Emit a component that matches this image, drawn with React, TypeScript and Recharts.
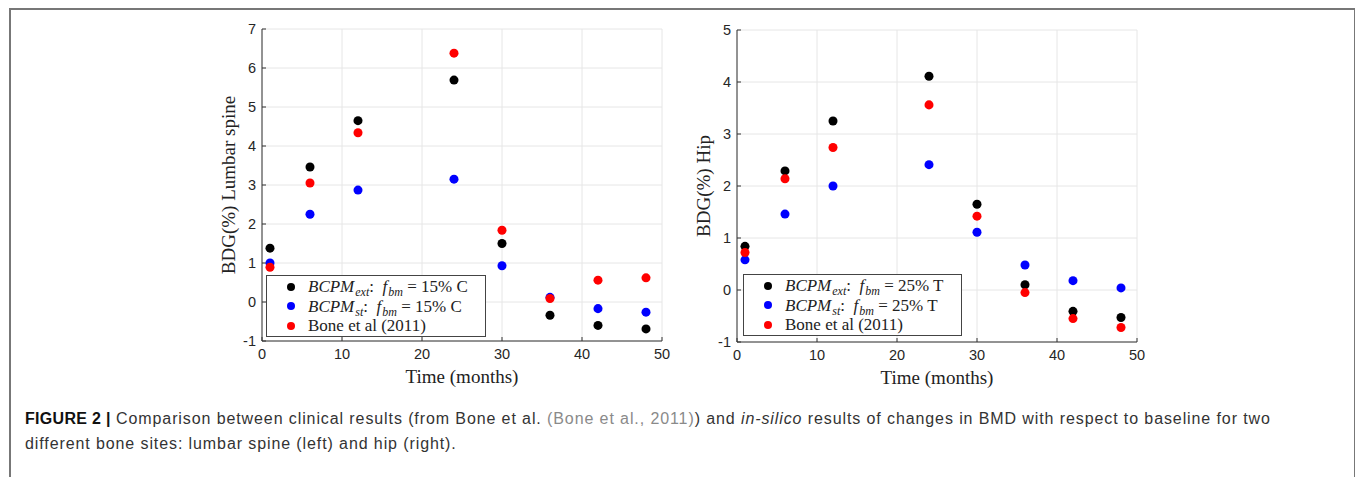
import { ScatterChart, Scatter, XAxis, YAxis, ZAxis, CartesianGrid, Legend } from "recharts";

const MONTHS = [1, 6, 12, 24, 30, 36, 42, 48];

// lumbar spine (left panel)
const SPINE_EXT = [1.38, 3.46, 4.65, 5.69, 1.5, -0.34, -0.6, -0.69];
const SPINE_ST = [1.0, 2.25, 2.87, 3.15, 0.93, 0.12, -0.17, -0.26];
const SPINE_BONE = [0.89, 3.05, 4.34, 6.38, 1.84, 0.09, 0.56, 0.62];

// hip (right panel)
const HIP_EXT = [0.84, 2.29, 3.25, 4.11, 1.65, 0.1, -0.41, -0.53];
const HIP_ST = [0.58, 1.46, 2.0, 2.41, 1.11, 0.48, 0.18, 0.04];
const HIP_BONE = [0.72, 2.14, 2.74, 3.56, 1.42, -0.05, -0.55, -0.72];

const X_TICKS = [0, 10, 20, 30, 40, 50];
const SPINE_TICKS = [-1, 0, 1, 2, 3, 4, 5, 6, 7];
const HIP_TICKS = [-1, 0, 1, 2, 3, 4, 5];

const SERIES_COLORS = ["#000000", "#0000ff", "#ff0000"];

const toPoints = (vals: number[]) => MONTHS.map((m, i) => ({ x: m, y: vals[i] }));

const SERIF = "'Liberation Serif', 'Times New Roman', serif";
const SANS = "'Liberation Sans', Arial, sans-serif";

// subscripts shifted down without growing the line box
const subStyle = {
  fontSize: 12,
  fontStyle: "italic" as const,
  marginLeft: 1,
  position: "relative" as const,
  top: 4,
  lineHeight: "10px",
};

function Sub({ children }: { children: string }) {
  return <span style={subStyle}>{children}</span>;
}

function LegendBox({ pct }: { pct: string }) {
  const rows = [
    <span>
      <i>BCPM</i>
      <Sub>ext</Sub>:&nbsp; <i>f</i>
      <Sub>bm</Sub>&nbsp;=&nbsp;{pct}
    </span>,
    <span>
      <i>BCPM</i>
      <Sub>st</Sub>:&nbsp; <i>f</i>
      <Sub>bm</Sub>&nbsp;=&nbsp;{pct}
    </span>,
    <span>Bone et al (2011)</span>,
  ];
  return (
    <div
      style={{
        border: "1px solid #444",
        background: "#fff",
        fontFamily: SERIF,
        fontSize: 17,
        color: "#222",
        boxSizing: "border-box",
        height: 62,
        paddingTop: 1,
        whiteSpace: "nowrap",
      }}
    >
      {rows.map((r, i) => (
        <div key={i} style={{ display: "flex", alignItems: "center", height: 19.5, lineHeight: "19px" }}>
          <span
            style={{
              width: 8,
              height: 8,
              borderRadius: 4,
              background: SERIES_COLORS[i],
              marginLeft: 20,
              marginRight: 13,
              flexShrink: 0,
            }}
          />
          {r}
        </div>
      ))}
    </div>
  );
}

interface PanelProps {
  left: number;
  marginTop: number;
  yTicks: number[];
  yLabel: string;
  ext: number[];
  st: number[];
  bone: number[];
  pct: string;
  legendLeft: number;
  legendTop: number;
  legendWidth: number;
}

function Panel(p: PanelProps) {
  const yDomain = [p.yTicks[0], p.yTicks[p.yTicks.length - 1]];
  return (
    <div style={{ position: "absolute", left: p.left, top: 0 }}>
      <ScatterChart
        width={500}
        height={400}
        margin={{ top: p.marginTop, right: 28, left: 22, bottom: 400 - 45 - (p.marginTop + 312) }}
      >
        <CartesianGrid stroke="#e6e6e6" strokeWidth={1} />
        <XAxis
          type="number"
          dataKey="x"
          domain={[0, 50]}
          ticks={X_TICKS}
          height={45}
          stroke="#333"
          tickSize={-4}
          tickMargin={12}
          tick={{ fill: "#262626", fontSize: 14.5, fontFamily: SANS }}
          label={{
            value: "Time (months)",
            position: "insideBottom",
            offset: 3,
            style: { fill: "#222", fontSize: 19, fontFamily: SERIF },
          }}
        />
        <YAxis
          type="number"
          dataKey="y"
          domain={yDomain}
          ticks={p.yTicks}
          width={50}
          stroke="#333"
          tickSize={-4}
          tickMargin={10}
          tick={{ fill: "#262626", fontSize: 14.5, fontFamily: SANS }}
          label={{
            value: p.yLabel,
            angle: -90,
            position: "insideLeft",
            offset: 16,
            style: { fill: "#222", fontSize: 19, fontFamily: SERIF, textAnchor: "middle" },
          }}
        />
        <ZAxis range={[50, 50]} />
        <Scatter name="ext" data={toPoints(p.ext)} fill={SERIES_COLORS[0]} isAnimationActive={false} />
        <Scatter name="st" data={toPoints(p.st)} fill={SERIES_COLORS[1]} isAnimationActive={false} />
        <Scatter name="bone" data={toPoints(p.bone)} fill={SERIES_COLORS[2]} isAnimationActive={false} />
        <Legend
          layout="vertical"
          align="center"
          verticalAlign="middle"
          content={() => <LegendBox pct={p.pct} />}
          wrapperStyle={{ left: p.legendLeft, top: p.legendTop, width: p.legendWidth, height: 62 }}
        />
      </ScatterChart>
    </div>
  );
}

export default function App() {
  return (
    <div
      style={{
        position: "absolute",
        left: 0,
        top: 0,
        width: 1355,
        height: 477,
        overflow: "hidden",
        background: "#fff",
      }}
    >
      <div
        style={{
          position: "absolute",
          left: 9,
          top: 8,
          width: 1343,
          height: 520,
          borderTop: "2px solid #777",
          borderLeft: "2px solid #777",
          borderRight: "2px solid #777",
        }}
      />
      <Panel
        left={190}
        marginTop={29}
        yTicks={SPINE_TICKS}
        yLabel="BDG(%) Lumbar spine"
        ext={SPINE_EXT}
        st={SPINE_ST}
        bone={SPINE_BONE}
        pct="15% C"
        legendLeft={76}
        legendTop={275}
        legendWidth={220}
      />
      <Panel
        left={665}
        marginTop={30}
        yTicks={HIP_TICKS}
        yLabel="BDG(%) Hip"
        ext={HIP_EXT}
        st={HIP_ST}
        bone={HIP_BONE}
        pct="25% T"
        legendLeft={78}
        legendTop={274}
        legendWidth={219}
      />
      <div
        style={{
          position: "absolute",
          left: 25,
          top: 406,
          fontFamily: SANS,
          fontSize: 16,
          letterSpacing: 0.9,
          lineHeight: "25px",
          color: "#333",
          whiteSpace: "nowrap",
        }}
      >
        <div>
          <b style={{ color: "#111", letterSpacing: 0.3 }}>FIGURE 2 |</b> Comparison between clinical results (from
          Bone et al. <span style={{ color: "#8a8a8a" }}>(Bone et al., 2011)</span>) and <i>in-silico</i> results of
          changes in BMD with respect to baseline for two
        </div>
        <div>different bone sites: lumbar spine (left) and hip (right).</div>
      </div>
    </div>
  );
}
